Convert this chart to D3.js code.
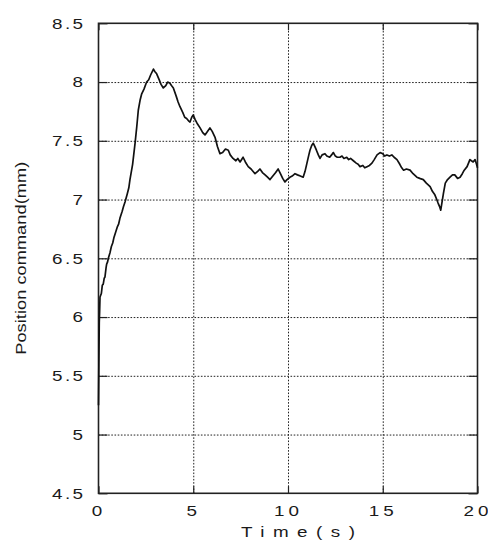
<!DOCTYPE html>
<html>
<head>
<meta charset="utf-8">
<script src="https://cdn.jsdelivr.net/npm/d3@7"></script>
<style>
  html, body { margin: 0; padding: 0; background: #fff; }
  svg { display: block; }
  text { font-family: "Liberation Sans", Arial, sans-serif; fill: #1a1a1a; }
</style>
</head>
<body>
<svg id="chart" width="488" height="542"></svg>
<script>
// Position command trace (mm) over time (s)
const timeS = [0, 0.02, 0.04, 0.06, 0.08, 0.15, 0.2, 0.25, 0.3, 0.34, 0.4, 0.43, 0.48, 0.52, 0.61, 0.68, 0.75, 0.82, 0.9, 1.0, 1.06, 1.13, 1.25, 1.32, 1.4, 1.52, 1.6, 1.66, 1.8,
  1.93, 2.02, 2.1, 2.2, 2.28, 2.4, 2.54, 2.65, 2.75, 2.9, 2.97, 3.07, 3.2, 3.3, 3.42, 3.55, 3.65, 3.77, 3.85, 3.95,
  4.1, 4.2, 4.3, 4.45, 4.55, 4.65, 4.75, 4.83, 4.92, 5.0, 5.1, 5.2, 5.36, 5.5, 5.62, 5.75, 5.88, 6.0, 6.15, 6.28,
  6.41, 6.55, 6.7, 6.85, 6.95, 7.1, 7.25, 7.35, 7.47, 7.63, 7.75, 7.9, 8.05, 8.26, 8.4, 8.52, 8.65, 8.79, 8.92, 9.05,
  9.2, 9.35, 9.48, 9.6, 9.72, 9.84, 9.95, 10.1, 10.22, 10.37, 10.5, 10.65, 10.8, 10.9, 11.0, 11.1, 11.16, 11.25, 11.33, 11.42,
  11.5, 11.6, 11.69, 11.8, 11.95, 12.05, 12.2, 12.3, 12.39, 12.5, 12.6, 12.74, 12.85, 12.95, 13.1, 13.2, 13.3, 13.45, 13.6, 13.7,
  13.8, 13.95, 14.05, 14.17, 14.3, 14.43, 14.55, 14.7, 14.86, 15.0, 15.1, 15.22, 15.35, 15.48, 15.6, 15.75, 15.9, 16.0, 16.1, 16.25,
  16.44, 16.6, 16.8, 16.95, 17.14, 17.3, 17.5, 17.62, 17.75, 17.85, 17.92, 18.0, 18.06, 18.12, 18.2, 18.3, 18.42, 18.55, 18.68, 18.8,
  18.95, 19.08, 19.2, 19.3, 19.45, 19.6, 19.68, 19.77, 19.87, 19.95, 20.0];
const positionMm = [5.25, 5.6, 5.95, 6.05, 6.17, 6.2, 6.27, 6.28, 6.33, 6.34, 6.42, 6.45, 6.47, 6.5, 6.55, 6.6, 6.63, 6.68, 6.72, 6.77, 6.79, 6.84, 6.9, 6.94, 6.98, 7.05, 7.1, 7.17, 7.3,
  7.48, 7.62, 7.76, 7.85, 7.9, 7.94, 8.0, 8.02, 8.06, 8.11, 8.09, 8.07, 8.02, 7.98, 7.95, 7.97, 8.0, 7.99, 7.97, 7.95,
  7.88, 7.83, 7.79, 7.74, 7.7, 7.69, 7.67, 7.66, 7.7, 7.72, 7.68, 7.65, 7.61, 7.57, 7.55, 7.58, 7.61, 7.58, 7.53, 7.45,
  7.39, 7.4, 7.43, 7.42, 7.38, 7.35, 7.33, 7.35, 7.32, 7.36, 7.32, 7.28, 7.26, 7.22, 7.24, 7.26, 7.23, 7.21, 7.19, 7.17,
  7.2, 7.23, 7.26, 7.22, 7.18, 7.15, 7.17, 7.19, 7.2, 7.22, 7.21, 7.2, 7.19, 7.24, 7.31, 7.38, 7.42, 7.46, 7.48, 7.45,
  7.42, 7.38, 7.35, 7.38, 7.39, 7.37, 7.36, 7.38, 7.4, 7.37, 7.36, 7.36, 7.37, 7.35, 7.36, 7.34, 7.35, 7.33, 7.31, 7.3,
  7.28, 7.29, 7.27, 7.28, 7.29, 7.31, 7.34, 7.38, 7.4, 7.39, 7.37, 7.38, 7.37, 7.38, 7.36, 7.34, 7.3, 7.27, 7.25, 7.26,
  7.25, 7.22, 7.19, 7.18, 7.17, 7.14, 7.11, 7.07, 7.04, 7.0, 6.97, 6.94, 6.91, 6.97, 7.05, 7.14, 7.17, 7.19, 7.21, 7.21,
  7.18, 7.19, 7.22, 7.25, 7.28, 7.34, 7.33, 7.32, 7.34, 7.3, 7.27];

const xTicks = [0, 5, 10, 15, 20];
const yTicks = [4.5, 5, 5.5, 6, 6.5, 7, 7.5, 8, 8.5];
const xTickLabels = ["0", "5", "10", "15", "20"];
const yTickLabels = ["4.5", "5", "5.5", "6", "6.5", "7", "7.5", "8", "8.5"];
const xTitle = "Time(s)";
const yTitle = "Position command(mm)";

const svg = d3.select("#chart");
const plotLeft = 98.5, plotRight = 477.5, plotTop = 23.3, plotBottom = 493.3;

const x = d3.scaleLinear().domain([0, 20]).range([plotLeft, plotRight]);
const y = d3.scaleLinear().domain([4.5, 8.5]).range([plotBottom, plotTop]);

// dotted grid
const grid = svg.append("g").attr("class", "grid");
grid.append("g")
  .attr("transform", `translate(0,${plotBottom})`)
  .call(d3.axisBottom(x).tickValues(xTicks.slice(1, -1)).tickSize(-(plotBottom - plotTop)).tickFormat(""))
  .call(g => g.select(".domain").remove())
  .call(g => g.selectAll("line").attr("stroke", "#222").attr("stroke-width", 1).attr("stroke-dasharray", "1.6,1.6"));
grid.append("g")
  .attr("transform", `translate(${plotLeft},0)`)
  .call(d3.axisLeft(y).tickValues(yTicks.slice(1, -1)).tickSize(-(plotRight - plotLeft)).tickFormat(""))
  .call(g => g.select(".domain").remove())
  .call(g => g.selectAll("line").attr("stroke", "#222").attr("stroke-width", 1).attr("stroke-dasharray", "1.6,1.6"));

// inward tick marks on all four sides
function tickStyle(g) {
  g.select(".domain").remove();
  g.selectAll("line").attr("stroke", "#222").attr("stroke-width", 1.2);
}
svg.append("g").attr("transform", `translate(0,${plotBottom})`)
  .call(d3.axisBottom(x).tickValues(xTicks).tickSize(-7).tickFormat("")).call(tickStyle);
svg.append("g").attr("transform", `translate(0,${plotTop})`)
  .call(d3.axisTop(x).tickValues(xTicks).tickSize(-7).tickFormat("")).call(tickStyle);
svg.append("g").attr("transform", `translate(${plotLeft},0)`)
  .call(d3.axisLeft(y).tickValues(yTicks).tickSize(-9).tickFormat("")).call(tickStyle);
svg.append("g").attr("transform", `translate(${plotRight},0)`)
  .call(d3.axisRight(y).tickValues(yTicks).tickSize(-9).tickFormat("")).call(tickStyle);

// frame
svg.append("rect")
  .attr("x", plotLeft).attr("y", plotTop)
  .attr("width", plotRight - plotLeft).attr("height", plotBottom - plotTop)
  .attr("fill", "none").attr("stroke", "#222").attr("stroke-width", 1.6);

// trace
const pts = timeS.map((t, i) => [t, positionMm[i]]);
svg.append("path")
  .datum(pts)
  .attr("fill", "none")
  .attr("stroke", "#111")
  .attr("stroke-width", 1.7)
  .attr("stroke-linejoin", "round")
  .attr("d", d3.line().x(d => x(d[0])).y(d => y(d[1])));

// wide lettering: horizontally stretched glyphs with extra spacing
const stretch = 1.3;
function label(parent, str, px, py, size, anchor, width, rotate) {
  const g = parent.append("g")
    .attr("transform", `translate(${px},${py})` + (rotate ? ` rotate(${rotate})` : "") + ` scale(${stretch},1)`);
  const t = g.append("text")
    .attr("text-anchor", anchor)
    .attr("font-size", size)
    .text(str);
  if (width) t.attr("textLength", width / stretch).attr("lengthAdjust", "spacing");
  return t;
}

yTicks.forEach((v, i) => {
  const s = yTickLabels[i];
  label(svg, s, 83, y(v) + 5.2, 14.5, "end", s.length > 1 ? 31 : null);
});
xTicks.forEach((v, i) => {
  const s = xTickLabels[i];
  label(svg, s, x(v) - 1.5, 516, 14.5, "middle", s.length > 1 ? 25 : null);
});

label(svg, xTitle, 298, 537, 14.5, "middle", 114);
label(svg, yTitle, 26, (plotTop + plotBottom) / 2, 14, "middle", 193, -90);
</script>
</body>
</html>
